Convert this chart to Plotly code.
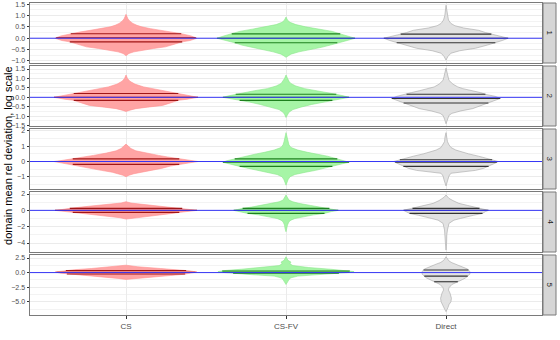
import numpy as np
import plotly.graph_objects as go

categories = ["CS", "CS-FV", "Direct"]
panel_labels = ["1", "2", "3", "4", "5"]
y_title = "domain mean rel deviation, log scale"

# ---- violin density profiles (y value, density in arbitrary units) ----
cs_p1_y = [1.05, 0.95, 0.85, 0.75, 0.65, 0.57, 0.5, 0.42, 0.35, 0.27, 0.2, 0.1, 0.0, -0.1, -0.16, -0.25, -0.38, -0.45, -0.53, -0.6, -0.67, -0.72, -0.77]
cs_p1_d = [0, 1, 2, 4, 7, 11, 16, 25, 36, 47, 56, 66, 72, 65, 57, 50, 40, 28, 16, 8, 3, 1.5, 0]
csfv_p1_y = [0.93, 0.8, 0.7, 0.6, 0.5, 0.4, 0.3, 0.19, 0.1, 0.0, -0.1, -0.2, -0.3, -0.4, -0.5, -0.6, -0.7, -0.78, -0.84]
csfv_p1_d = [0, 1.5, 4, 10, 20, 34, 47, 55, 63, 70, 62, 52, 45, 36, 24, 13, 5, 2, 0]
dir_p1_y = [1.45, 1.2, 1.0, 0.8, 0.65, 0.55, 0.45, 0.35, 0.25, 0.18, 0.1, 0.0, -0.1, -0.2, -0.3, -0.44, -0.55, -0.66, -0.8, -0.96]
dir_p1_d = [0, 0.7, 1.2, 2.5, 5, 9, 18, 33, 40, 46, 55, 63, 57, 50, 42, 30, 14, 5, 2, 0]

cs_p2_y = [1.18, 1.0, 0.85, 0.7, 0.55, 0.4, 0.3, 0.2, 0.1, 0.0, -0.1, -0.16, -0.3, -0.43, -0.52, -0.6, -0.68, -0.75]
cs_p2_d = [0, 1.5, 4, 9, 18, 33, 43, 53, 63, 73, 62, 53, 45, 37, 22, 10, 4, 0]
csfv_p2_y = [1.18, 1.0, 0.85, 0.73, 0.6, 0.46, 0.35, 0.25, 0.16, 0.08, 0.0, -0.08, -0.16, -0.25, -0.38, -0.52, -0.65, -0.79, -0.9, -1.07]
csfv_p2_d = [0, 1.5, 3, 5, 10, 19, 32, 44, 51, 58, 64, 56, 47, 37, 26, 15, 7, 3, 1.5, 0]
dir_p2_y = [1.55, 1.3, 1.1, 0.9, 0.7, 0.55, 0.46, 0.35, 0.25, 0.16, 0.05, -0.06, -0.2, -0.3, -0.45, -0.6, -0.72, -0.85, -0.96, -1.15, -1.4]
dir_p2_d = [0, 1, 2, 3, 7, 12, 17, 27, 35, 40, 50, 55, 48, 43, 35, 27, 15, 6, 3, 1.5, 0]

cs_p3_y = [1.14, 1.0, 0.85, 0.7, 0.55, 0.4, 0.3, 0.17, 0.08, 0.0, -0.1, -0.19, -0.3, -0.45, -0.58, -0.7, -0.8, -0.9, -1.0]
cs_p3_d = [0, 2, 5, 10, 20, 33, 42, 54, 64, 73, 63, 54, 45, 36, 25, 14, 8, 3, 0]
csfv_p3_y = [1.89, 1.6, 1.3, 1.1, 0.92, 0.75, 0.6, 0.5, 0.35, 0.17, 0.05, -0.05, -0.15, -0.32, -0.45, -0.58, -0.7, -0.85, -1.0, -1.2, -1.55]
csfv_p3_d = [0, 1, 2, 3, 5, 12, 22, 30, 42, 52, 60, 64, 57, 47, 38, 30, 20, 9, 4, 2, 0]
dir_p3_y = [1.89, 1.6, 1.3, 1.1, 0.92, 0.75, 0.6, 0.5, 0.35, 0.2, 0.1, 0.0, -0.1, -0.3, -0.45, -0.58, -0.68, -0.77, -0.95, -1.2, -1.6]
dir_p3_d = [0, 1, 1.5, 3, 5, 10, 17, 23, 33, 42, 48, 53, 50, 44, 38, 30, 15, 5, 3, 2, 0]

cs_p4_y = [1.06, 0.9, 0.8, 0.65, 0.5, 0.25, 0.1, 0.0, -0.1, -0.25, -0.4, -0.58, -0.75, -0.9, -1.07]
cs_p4_d = [0, 5, 12, 25, 38, 57, 65, 72, 63, 54, 45, 33, 17, 6, 0]
csfv_p4_y = [1.88, 1.5, 1.26, 1.05, 0.86, 0.6, 0.4, 0.25, 0.1, 0.0, -0.15, -0.37, -0.55, -0.78, -1.0, -1.2, -1.4, -1.8, -2.2, -2.62]
csfv_p4_d = [0, 1.5, 3, 7, 13, 25, 35, 44, 49, 53, 46, 39, 28, 18, 9, 5, 3, 1.5, 1, 0]
dir_p4_y = [1.88, 1.6, 1.47, 1.2, 0.86, 0.6, 0.25, 0.1, 0.0, -0.15, -0.37, -0.6, -0.8, -0.98, -1.2, -1.6, -2.4, -3.0, -4.0, -4.87]
dir_p4_d = [0, 2, 3, 7, 13, 22, 34, 40, 43, 40, 37, 28, 20, 15, 8, 3, 1.5, 0.8, 0.6, 0]

cs_p5_y = [1.27, 1.0, 0.7, 0.5, 0.3, 0.1, -0.1, -0.3, -0.5, -0.8, -1.0, -1.17]
cs_p5_d = [0, 12, 35, 52, 64, 72, 66, 58, 45, 22, 8, 0]
csfv_p5_y = [2.72, 2.4, 2.1, 1.8, 1.5, 1.2, 0.87, 0.58, 0.35, 0.17, 0.0, -0.2, -0.35, -0.6, -0.9, -1.17, -1.5, -2.04]
csfv_p5_d = [0, 1, 2, 5, 4, 7, 23, 45, 62, 69, 62, 48, 35, 12, 5, 3, 2, 0]
dir_p5_y = [2.72, 2.3, 2.0, 1.7, 1.45, 1.0, 0.6, 0.2, 0.0, -0.3, -0.6, -0.9, -1.17, -1.57, -2.04, -2.6, -3.0, -3.5, -4.0, -4.4, -5.0, -5.5, -6.0, -6.4, -6.7]
dir_p5_d = [0, 1.5, 3, 6, 10, 17, 22, 24, 24.5, 24, 22, 20, 17, 12, 6, 3, 2.5, 4, 5, 5.5, 5, 3, 2, 1, 0]

# quartiles (75%, 50%, 25%) per violin
cs_q = [[0.2, 0.02, -0.16], [0.2, 0.0, -0.16], [0.17, 0.0, -0.19], [0.25, 0.0, -0.25], [0.35, 0.05, -0.25]]
csfv_q = [[0.19, 0.0, -0.2], [0.16, 0.0, -0.16], [0.17, -0.05, -0.32], [0.25, 0.0, -0.37], [0.28, 0.05, -0.12]]
dir_q = [[0.18, 0.0, -0.2], [0.16, -0.06, -0.3], [0.12, -0.05, -0.32], [0.25, 0.0, -0.37], [0.45, -0.6, -1.57]]

# y-axis settings per panel
y_ranges = [[-1.09, 1.55], [-1.52, 1.66], [-1.8, 2.13], [-5.1, 2.25], [-7.28, 3.02]]
y_dticks = [0.5, 0.5, 1, 2, 2.5]
y_formats = [".1f", ".1f", "d", "d", ".1f"]

profiles = {
    "CS": [(cs_p1_y, cs_p1_d), (cs_p2_y, cs_p2_d), (cs_p3_y, cs_p3_d), (cs_p4_y, cs_p4_d), (cs_p5_y, cs_p5_d)],
    "CS-FV": [(csfv_p1_y, csfv_p1_d), (csfv_p2_y, csfv_p2_d), (csfv_p3_y, csfv_p3_d), (csfv_p4_y, csfv_p4_d), (csfv_p5_y, csfv_p5_d)],
    "Direct": [(dir_p1_y, dir_p1_d), (dir_p2_y, dir_p2_d), (dir_p3_y, dir_p3_d), (dir_p4_y, dir_p4_d), (dir_p5_y, dir_p5_d)],
}
quartiles = {"CS": cs_q, "CS-FV": csfv_q, "Direct": dir_q}

styles = {
    "CS": dict(fill="#FFA4A4", edge="#FF9090", q="#A01515"),
    "CS-FV": dict(fill="#A6F5A6", edge="#8CE68C", q="#1E801E"),
    "Direct": dict(fill="#E2E2E2", edge="#A6A6A6", q="#333333"),
}

DENS_MAX = max(max(d) for v in profiles.values() for _, d in v)
HALF = 0.45

# ---- layout geometry (pixels) ----
W, H = 560, 340
ML, MR, MT, MB = 30, 18, 3, 25
PH, GAP = 60, 3
plot_h = H - MT - MB
plot_w = W - ML - MR

fig = go.Figure()

for i in range(5):
    ax = "" if i == 0 else str(i + 1)
    xref, yref = "x" + ax, "y" + ax
    for ci, cat in enumerate(categories):
        cx = ci + 1
        ys, ds = profiles[cat][i]
        ys = np.array(ys, float)
        hw = np.array(ds, float) / DENS_MAX * HALF
        px = np.concatenate([cx + hw, (cx - hw)[::-1]])
        py = np.concatenate([ys, ys[::-1]])
        st = styles[cat]
        fig.add_trace(go.Scatter(x=px, y=py, mode="lines", fill="toself",
                                 fillcolor=st["fill"], line=dict(color=st["edge"], width=0.6),
                                 xaxis=xref, yaxis=yref, showlegend=False, hoverinfo="skip"))
        qx, qy = [], []
        order = np.argsort(ys)
        for q in quartiles[cat][i]:
            w = np.interp(q, ys[order], hw[order])
            qx += [cx - w, cx + w, None]
            qy += [q, q, None]
        fig.add_trace(go.Scatter(x=qx, y=qy, mode="lines", line=dict(color=st["q"], width=1.1),
                                 xaxis=xref, yaxis=yref, showlegend=False, hoverinfo="skip"))

    top = MT + i * (PH + GAP)
    bot = top + PH
    d0 = max(0.0, (plot_h - (bot - MT)) / plot_h)
    d1 = (plot_h - (top - MT)) / plot_h

    xa = dict(domain=[0, 1], range=[0.4, 3.6], tickvals=[1, 2, 3], ticktext=categories,
              showgrid=True, gridcolor="#EBEBEB", gridwidth=1, zeroline=False,
              showline=True, mirror=True, linecolor="#7A7A7A", linewidth=1,
              ticks="outside" if i == 4 else "", ticklen=3, tickcolor="#333333",
              showticklabels=(i == 4), tickfont=dict(size=8, color="#4D4D4D"),
              anchor=yref, automargin=False)
    ya = dict(domain=[d0, d1], range=y_ranges[i], dtick=y_dticks[i], tick0=0,
              tickformat=y_formats[i], showgrid=True, gridcolor="#EBEBEB", gridwidth=1,
              minor=dict(dtick=y_dticks[i] / 2, tick0=0, showgrid=True, gridcolor="#F3F3F3", gridwidth=0.6),
              zeroline=False, showline=True, mirror=True, linecolor="#7A7A7A", linewidth=1,
              ticks="outside", ticklen=2.5, tickcolor="#333333",
              tickfont=dict(size=7, color="#4D4D4D"), anchor=xref, automargin=False)
    fig.layout["xaxis" + ax] = xa
    fig.layout["yaxis" + ax] = ya

    # reference line at zero
    fig.add_shape(type="line", xref=xref + " domain", yref=yref, x0=0, x1=1, y0=0, y1=0,
                  line=dict(color="#3535F5", width=1), layer="above")
    # facet strip
    sx0 = (plot_w + 1) / plot_w
    sx1 = (plot_w + 14) / plot_w
    fig.add_shape(type="rect", xref="paper", yref="paper", x0=sx0, x1=sx1, y0=d0, y1=d1,
                  fillcolor="#D6D6D6", line=dict(color="#7A7A7A", width=1), layer="above")
    fig.add_annotation(xref="paper", yref="paper", x=(sx0 + sx1) / 2, y=(d0 + d1) / 2,
                       xanchor="center", yanchor="middle",
                       text=panel_labels[i], showarrow=False, textangle=90,
                       font=dict(size=8, color="#1A1A1A"))

fig.add_annotation(xref="paper", yref="paper", x=(8 - ML) / plot_w, y=0.51,
                   xanchor="center", yanchor="middle",
                   text=y_title, showarrow=False, textangle=-90,
                   font=dict(size=11, color="#000000"))

fig.update_layout(width=W, height=H, margin=dict(l=ML, r=MR, t=MT, b=MB, autoexpand=False),
                  paper_bgcolor="white", plot_bgcolor="white",
                  font=dict(family="Liberation Sans, Arial, sans-serif"),
                  showlegend=False)

fig.write_html("out.html", config={"displayModeBar": False},
               post_script="document.body.style.margin='0';document.body.style.overflow='hidden';")
